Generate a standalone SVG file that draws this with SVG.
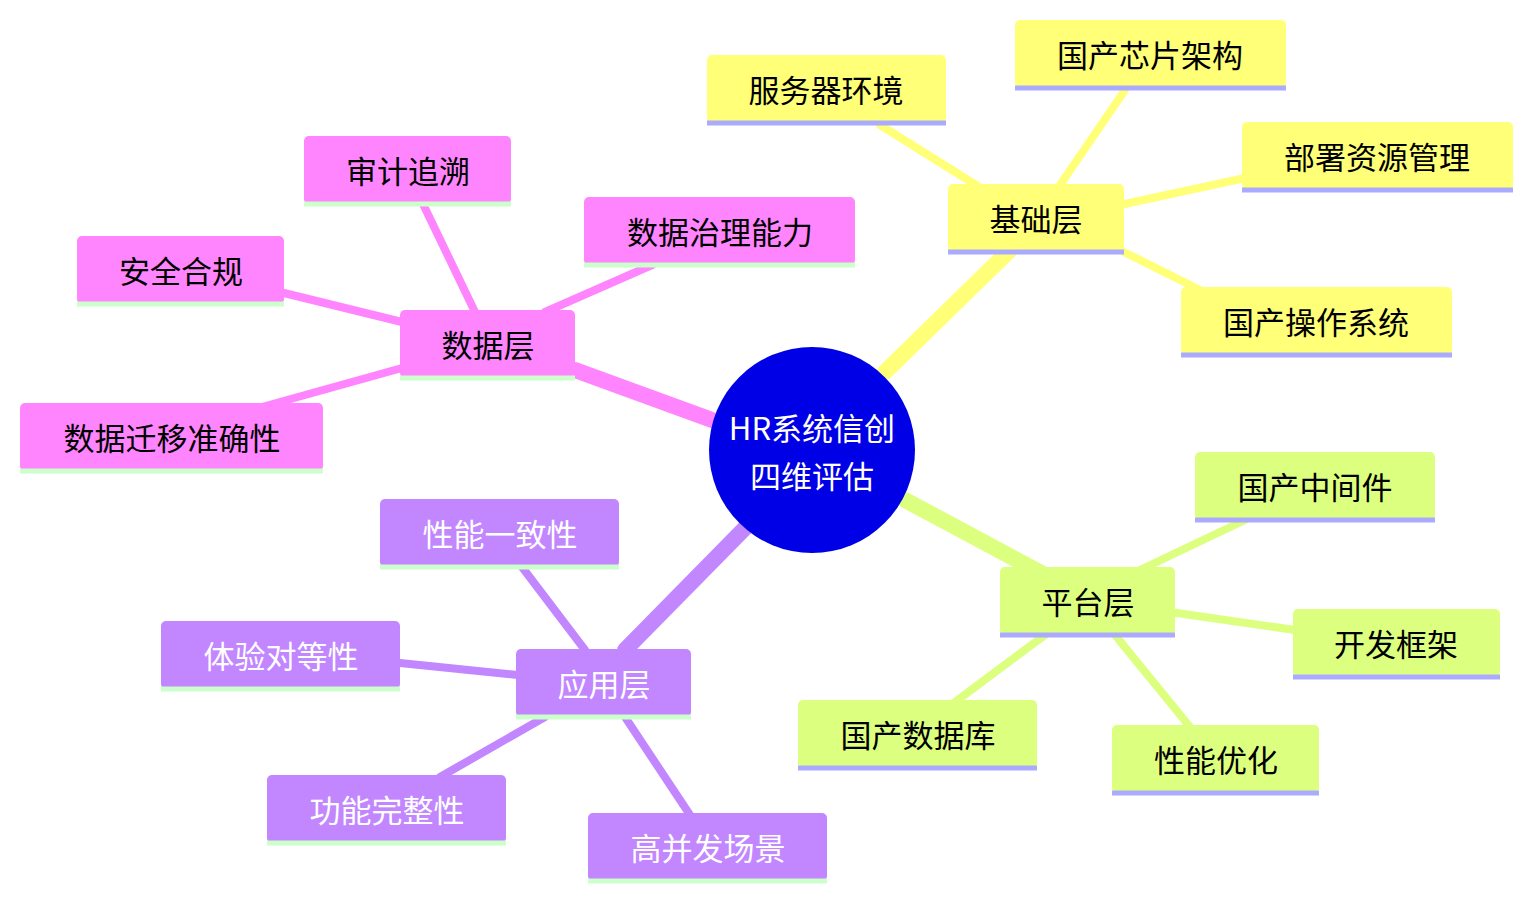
<svg xmlns="http://www.w3.org/2000/svg" width="1533" height="900" viewBox="0 0 1533 900">
<style>
text{font-family:"Noto Sans CJK SC","Noto Sans",sans-serif;font-size:31px;text-anchor:middle;dominant-baseline:central}
.y rect{fill:#ffff78}.g rect{fill:#dcff80}.p rect{fill:#c287ff}.k rect{fill:#ff85ff}
.y line,.g line.u{stroke:#aaaaff}
.g line{stroke:#cfb8ff}
.p line,.k line{stroke:#ccffcc}
.u{stroke-width:5}
.p text{fill:#fff}
.e{fill:none;stroke-linecap:round}
</style>
<g id="connectors">
<g stroke="#ffff78">
<line class="e" x1="885" y1="372" x2="1010" y2="250" stroke-width="16"/>
<line class="e" x1="1000" y1="200" x2="880" y2="125" stroke-width="8"/>
<line class="e" x1="1060" y1="185" x2="1125" y2="90" stroke-width="8"/>
<line class="e" x1="1120" y1="205" x2="1245" y2="178" stroke-width="8"/>
<line class="e" x1="1120" y1="250" x2="1200" y2="290" stroke-width="8"/>
</g>
<g stroke="#dcff80">
<line class="e" x1="905" y1="500" x2="1045" y2="575" stroke-width="16"/>
<line class="e" x1="1140" y1="570" x2="1245" y2="520" stroke-width="8"/>
<line class="e" x1="1170" y1="612" x2="1295" y2="630" stroke-width="8"/>
<line class="e" x1="1045" y1="635" x2="955" y2="702" stroke-width="8"/>
<line class="e" x1="1115" y1="635" x2="1190" y2="727" stroke-width="8"/>
</g>
<g stroke="#c287ff">
<line class="e" x1="748" y1="525" x2="625" y2="650" stroke-width="16"/>
<line class="e" x1="585" y1="650" x2="522" y2="567" stroke-width="8"/>
<line class="e" x1="518" y1="675" x2="400" y2="663" stroke-width="8"/>
<line class="e" x1="545" y1="717" x2="440" y2="777" stroke-width="8"/>
<line class="e" x1="625" y1="717" x2="690" y2="815" stroke-width="8"/>
</g>
<g stroke="#ff85ff">
<line class="e" x1="712" y1="420" x2="575" y2="370" stroke-width="16"/>
<line class="e" x1="475" y1="312" x2="423" y2="204" stroke-width="8"/>
<line class="e" x1="402" y1="322" x2="284" y2="293" stroke-width="8"/>
<line class="e" x1="545" y1="312" x2="652" y2="265" stroke-width="8"/>
<line class="e" x1="402" y1="368" x2="262" y2="407" stroke-width="8"/>
</g>
</g>
<g id="center"><circle cx="812" cy="450" r="103" fill="#0000e6"/><text x="812" y="426" fill="#fff" font-size="29">HR系统信创</text><text x="812" y="474" fill="#fff" font-size="29">四维评估</text></g>
<g class="y">
<g id="n1"><rect x="948" y="184" width="176" height="68" rx="5"/><line class="u" x1="948" y1="252" x2="1124" y2="252"/><text x="1036" y="217">基础层</text></g>
<g id="n1a"><rect x="707" y="55" width="239" height="68" rx="5"/><line class="u" x1="707" y1="123" x2="946" y2="123"/><text x="826" y="88">服务器环境</text></g>
<g id="n1b"><rect x="1015" y="20" width="271" height="68" rx="5"/><line class="u" x1="1015" y1="88" x2="1286" y2="88"/><text x="1150" y="53">国产芯片架构</text></g>
<g id="n1c"><rect x="1242" y="122" width="271" height="68" rx="5"/><line class="u" x1="1242" y1="190" x2="1513" y2="190"/><text x="1377" y="155">部署资源管理</text></g>
<g id="n1d"><rect x="1181" y="287" width="271" height="68" rx="5"/><line class="u" x1="1181" y1="355" x2="1452" y2="355"/><text x="1316" y="320">国产操作系统</text></g>
</g>
<g class="g">
<g id="n2"><rect x="1000" y="567" width="175" height="68" rx="5"/><line class="u" x1="1000" y1="635" x2="1175" y2="635"/><text x="1088" y="600">平台层</text></g>
<g id="n2a"><rect x="1195" y="452" width="240" height="68" rx="5"/><line class="u" x1="1195" y1="520" x2="1435" y2="520"/><text x="1315" y="485">国产中间件</text></g>
<g id="n2b"><rect x="1293" y="609" width="207" height="68" rx="5"/><line class="u" x1="1293" y1="677" x2="1500" y2="677"/><text x="1396" y="642">开发框架</text></g>
<g id="n2c"><rect x="798" y="700" width="239" height="68" rx="5"/><line class="u" x1="798" y1="768" x2="1037" y2="768"/><text x="918" y="733">国产数据库</text></g>
<g id="n2d"><rect x="1112" y="725" width="207" height="68" rx="5"/><line class="u" x1="1112" y1="793" x2="1319" y2="793"/><text x="1216" y="758">性能优化</text></g>
</g>
<g class="p">
<g id="n3"><rect x="516" y="649" width="175" height="68" rx="5"/><line class="u" x1="516" y1="717" x2="691" y2="717"/><text x="604" y="682">应用层</text></g>
<g id="n3a"><rect x="380" y="499" width="239" height="68" rx="5"/><line class="u" x1="380" y1="567" x2="619" y2="567"/><text x="500" y="532">性能一致性</text></g>
<g id="n3b"><rect x="161" y="621" width="239" height="68" rx="5"/><line class="u" x1="161" y1="689" x2="400" y2="689"/><text x="281" y="654">体验对等性</text></g>
<g id="n3c"><rect x="267" y="775" width="239" height="68" rx="5"/><line class="u" x1="267" y1="843" x2="506" y2="843"/><text x="387" y="808">功能完整性</text></g>
<g id="n3d"><rect x="588" y="813" width="239" height="68" rx="5"/><line class="u" x1="588" y1="881" x2="827" y2="881"/><text x="708" y="846">高并发场景</text></g>
</g>
<g class="k">
<g id="n4"><rect x="400" y="310" width="175" height="68" rx="5"/><line class="u" x1="400" y1="378" x2="575" y2="378"/><text x="488" y="343">数据层</text></g>
<g id="n4a"><rect x="304" y="136" width="207" height="68" rx="5"/><line class="u" x1="304" y1="204" x2="511" y2="204"/><text x="408" y="169">审计追溯</text></g>
<g id="n4b"><rect x="77" y="236" width="207" height="68" rx="5"/><line class="u" x1="77" y1="304" x2="284" y2="304"/><text x="181" y="269">安全合规</text></g>
<g id="n4c"><rect x="584" y="197" width="271" height="68" rx="5"/><line class="u" x1="584" y1="265" x2="855" y2="265"/><text x="720" y="230">数据治理能力</text></g>
<g id="n4d"><rect x="20" y="403" width="303" height="68" rx="5"/><line class="u" x1="20" y1="471" x2="323" y2="471"/><text x="172" y="436">数据迁移准确性</text></g>
</g>
</svg>
